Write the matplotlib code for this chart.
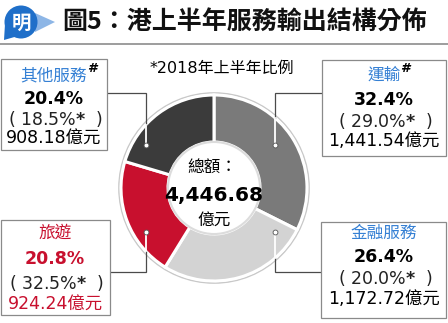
#!/usr/bin/env python3
"""Donut: HK H1 service exports by category (share, 2018 share, amount)."""
import numpy as np
import matplotlib

matplotlib.use("Agg")
import matplotlib.pyplot as plt
from matplotlib.patches import Circle, Polygon, Rectangle

plt.rcParams["font.family"] = ["Noto Sans CJK TC", "DejaVu Sans"]
MIXED = ["DejaVu Sans", "Noto Sans CJK TC"]

# data (clockwise from 12 o'clock)
categories = ["運輸", "金融服務", "旅遊", "其他服務"]
shares = [32.4, 26.4, 20.8, 20.4]
shares_2018 = [29.0, 20.0, 32.5, 18.5]
amounts = ["1,441.54", "1,172.72", "924.24", "908.18"]
has_hash = [True, False, False, True]
total = "4,446.68"

W, H = 448, 323
BLUE = "#3580d4"
RED = "#c8102e"
wedge_colors = ["#7a7a7a", "#d3d3d3", RED, "#3b3b3b"]

fig = plt.figure(figsize=(W / 100, H / 100), dpi=100)
ax = fig.add_axes([0, 0, 1, 1])


def Y(y):
    return H - y


# donut
cx, cy, r = 214, Y(188), 93
ax.pie(shares, colors=wedge_colors, startangle=90, counterclock=False,
       center=(cx, cy), radius=r,
       wedgeprops=dict(width=47, edgecolor="white", linewidth=2.2))
ax.add_patch(Circle((cx, cy), r + 2, fill=False, ec="#c8c8c8", lw=1.2, zorder=0))
ax.add_patch(Circle((cx, cy), r - 47, fill=False, ec="#dcdcdc", lw=1.5, zorder=3))

ax.set_xlim(0, W)
ax.set_ylim(0, H)
ax.set_aspect("auto")
ax.axis("off")

# connectors: (box x, line y, dot x, dot y)
connectors = [(322, 93, 275, 145), (322, 272, 275, 232),
              (108, 272, 146, 232), (107, 93, 146, 145)]
for bx, ly, dx, dy in connectors:
    # where the vertical line meets the ring's outer edge
    half = np.sqrt(r ** 2 - (dx - cx) ** 2)
    edge = cy + half if Y(dy) > cy else cy - half
    ax.plot([bx, dx, dx], [Y(ly), Y(ly), edge], color="#4a4a4a", lw=0.9,
            zorder=1, solid_joinstyle="miter")
    ax.plot([dx, dx], [edge, Y(dy)], color="white", lw=1.3, zorder=4)
    ax.plot([dx], [Y(dy)], "o", ms=3.5, mfc="white", mec="#555555", mew=0.6, zorder=5)

# boxes: (left, top, right, bottom, text center x, line ys)
boxes = [
    (322, 60, 446, 156, 384, [75, 100, 121, 141]),
    (321, 222, 446, 318, 384, [233, 257, 278, 299]),
    (1, 220, 110, 315, 55, [233, 259, 283, 305]),
    (1, 59, 107, 150, 54, [76, 99, 119, 139]),
]
for i, (l, t, rr, b, tx, ys) in enumerate(boxes):
    ax.add_patch(Rectangle((l, Y(b)), rr - l, b - t, fill=True, fc="white",
                           ec="#8a8a8a", lw=0.9, zorder=6))
    is_red = categories[i] == "旅遊"
    name_col = RED if is_red else BLUE
    main_col = RED if is_red else "black"
    ax.text(tx, Y(ys[0]), categories[i], ha="center", va="center",
            fontsize=12, color=name_col, zorder=7)
    if has_hash[i]:
        half_w = len(categories[i]) * 8.5
        ax.text(tx + half_w - 1, Y(ys[0] - 7), "#", ha="left", va="center",
                fontsize=9.5, fontweight="bold", family="DejaVu Sans",
                style="italic", zorder=7)
    ax.text(tx, Y(ys[1]), f"{shares[i]:.1f}%", ha="center", va="center",
            fontsize=12.5, fontweight="bold", family="DejaVu Sans",
            color=main_col, zorder=7)
    ax.text(tx + 1, Y(ys[2]), f"( {shares_2018[i]:.1f}%$\\mathbf{{*}}$  )", ha="center",
            va="center", fontsize=12.5, color="#222222", family=MIXED, zorder=7)
    ax.text(tx, Y(ys[3]), f"{amounts[i]}億元", ha="center", va="center",
            fontsize=12.5, color=main_col, family=MIXED, zorder=7)

# centre text
ax.text(cx - 2, Y(167), "總額：", ha="center", va="center", fontsize=12, zorder=7)
ax.text(cx, Y(196), total, ha="center", va="center", fontsize=14.5,
        fontweight="bold", family="DejaVu Sans", zorder=7)
ax.text(cx, Y(220), "億元", ha="center", va="center", fontsize=12, zorder=7)

ax.text(cx + 8, Y(68), "*2018年上半年比例", ha="center", va="center",
        fontsize=11.5, family=MIXED)

# header
ax.plot([0, W], [Y(44), Y(44)], color="#8c8c8c", lw=1.2)
ax.add_patch(Polygon([[35, Y(13)], [55, Y(22)], [35, Y(32)]], closed=True,
                     fc="#8db6e6", ec="none"))
ax.add_patch(Circle((21, Y(22)), 16.5, fc="#1f6fc9", ec="none"))
ax.add_patch(Polygon([[5, Y(24)], [4, Y(40)], [18, Y(36)]], closed=True,
                     fc="#1f6fc9", ec="none"))
ax.text(21, Y(23), "明", ha="center", va="center", fontsize=14,
        fontweight="bold", color="white")
ax.text(62, Y(23), "圖5：港上半年服務輸出結構分佈", ha="left", va="center",
        fontsize=18, fontweight="bold", color="#111111")

fig.savefig("out.png", dpi=100, facecolor="white")
